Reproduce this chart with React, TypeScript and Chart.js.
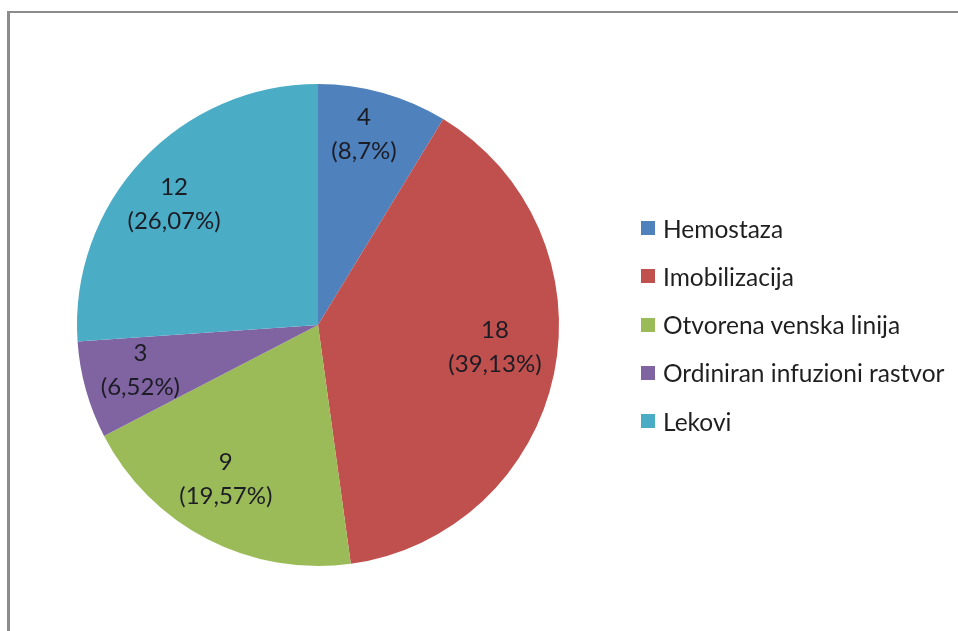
import React, { useEffect, useRef } from "react";
import { Chart, registerables } from "chart.js";

Chart.register(...registerables);

const categories = [
  "Hemostaza",
  "Imobilizacija",
  "Otvorena venska linija",
  "Ordiniran infuzioni rastvor",
  "Lekovi",
];
const counts = [4, 18, 9, 3, 12];
const percentLabels = ["8,7%", "39,13%", "19,57%", "6,52%", "26,07%"];
const colors = ["#4F81BD", "#C0504D", "#9BBB59", "#8064A2", "#4BACC6"];

const FONT = "Lato, 'Open Sans', sans-serif";

const labelPlugin = {
  id: "sliceLabels",
  afterDatasetsDraw(chart: any) {
    const ctx = chart.ctx;
    const meta = chart.getDatasetMeta(0);
    const opts = chart.options.plugins.sliceLabels;
    const fracs: number[] = opts.fractions;
    const shifts: number[] = opts.angleShiftDeg;
    ctx.save();
    ctx.fillStyle = "#1c1c24";
    ctx.font = `24px ${FONT}`;
    ctx.textAlign = "center";
    ctx.textBaseline = "middle";
    meta.data.forEach((arc: any, i: number) => {
      const p = arc.getProps(["x", "y", "startAngle", "endAngle", "outerRadius"], true);
      const mid = (p.startAngle + p.endAngle) / 2 + (shifts[i] * Math.PI) / 180;
      const r = p.outerRadius * fracs[i];
      const cx = p.x + Math.cos(mid) * r;
      const cy = p.y + Math.sin(mid) * r;
      ctx.fillText(String(counts[i]), cx, cy - 17);
      ctx.fillText(`(${percentLabels[i]})`, cx, cy + 17);
    });
    ctx.restore();
  },
};

export default function App() {
  const canvasRef = useRef<HTMLCanvasElement>(null);

  useEffect(() => {
    const chart = new Chart(canvasRef.current!, {
      type: "pie",
      data: {
        labels: categories,
        datasets: [
          {
            data: counts,
            backgroundColor: colors,
            borderWidth: 0,
          },
        ],
      },
      options: {
        animation: false,
        responsive: false,
        maintainAspectRatio: false,
        layout: { padding: { left: 77, top: 84, right: 399, bottom: 65 } },
        plugins: {
          legend: { display: false },
          tooltip: { enabled: false },
          sliceLabels: {
            fractions: [0.815, 0.74, 0.745, 0.76, 0.78],
            angleShiftDeg: [-2.1, -4.6, 3.5, 1.5, -3],
          },
        } as any,
      },
      plugins: [labelPlugin],
    });
    return () => chart.destroy();
  }, []);

  return (
    <div
      style={{
        position: "fixed",
        left: 0,
        top: 0,
        width: 958,
        height: 631,
        background: "#fff",
        overflow: "hidden",
        fontFamily: FONT,
      }}
    >
      <div
        style={{
          position: "absolute",
          left: 7,
          top: 11,
          width: 1000,
          height: 700,
          borderLeft: "3px solid #8c8c8c",
          borderTop: "2px solid #8c8c8c",
        }}
      />
      <canvas
        ref={canvasRef}
        width={958}
        height={631}
        style={{ position: "absolute", left: 0, top: 0, width: 958, height: 631 }}
      />
      <div style={{ position: "absolute", left: 641, top: 204 }}>
        {categories.map((c, i) => (
          <div
            key={c}
            style={{
              display: "flex",
              alignItems: "center",
              height: 48.25,
              fontSize: 24.5,
              color: "#1f1f1f",
              whiteSpace: "nowrap",
            }}
          >
            <span
              style={{
                display: "inline-block",
                width: 14,
                height: 14,
                background: colors[i],
                marginRight: 8,
              }}
            />
            {c}
          </div>
        ))}
      </div>
    </div>
  );
}
